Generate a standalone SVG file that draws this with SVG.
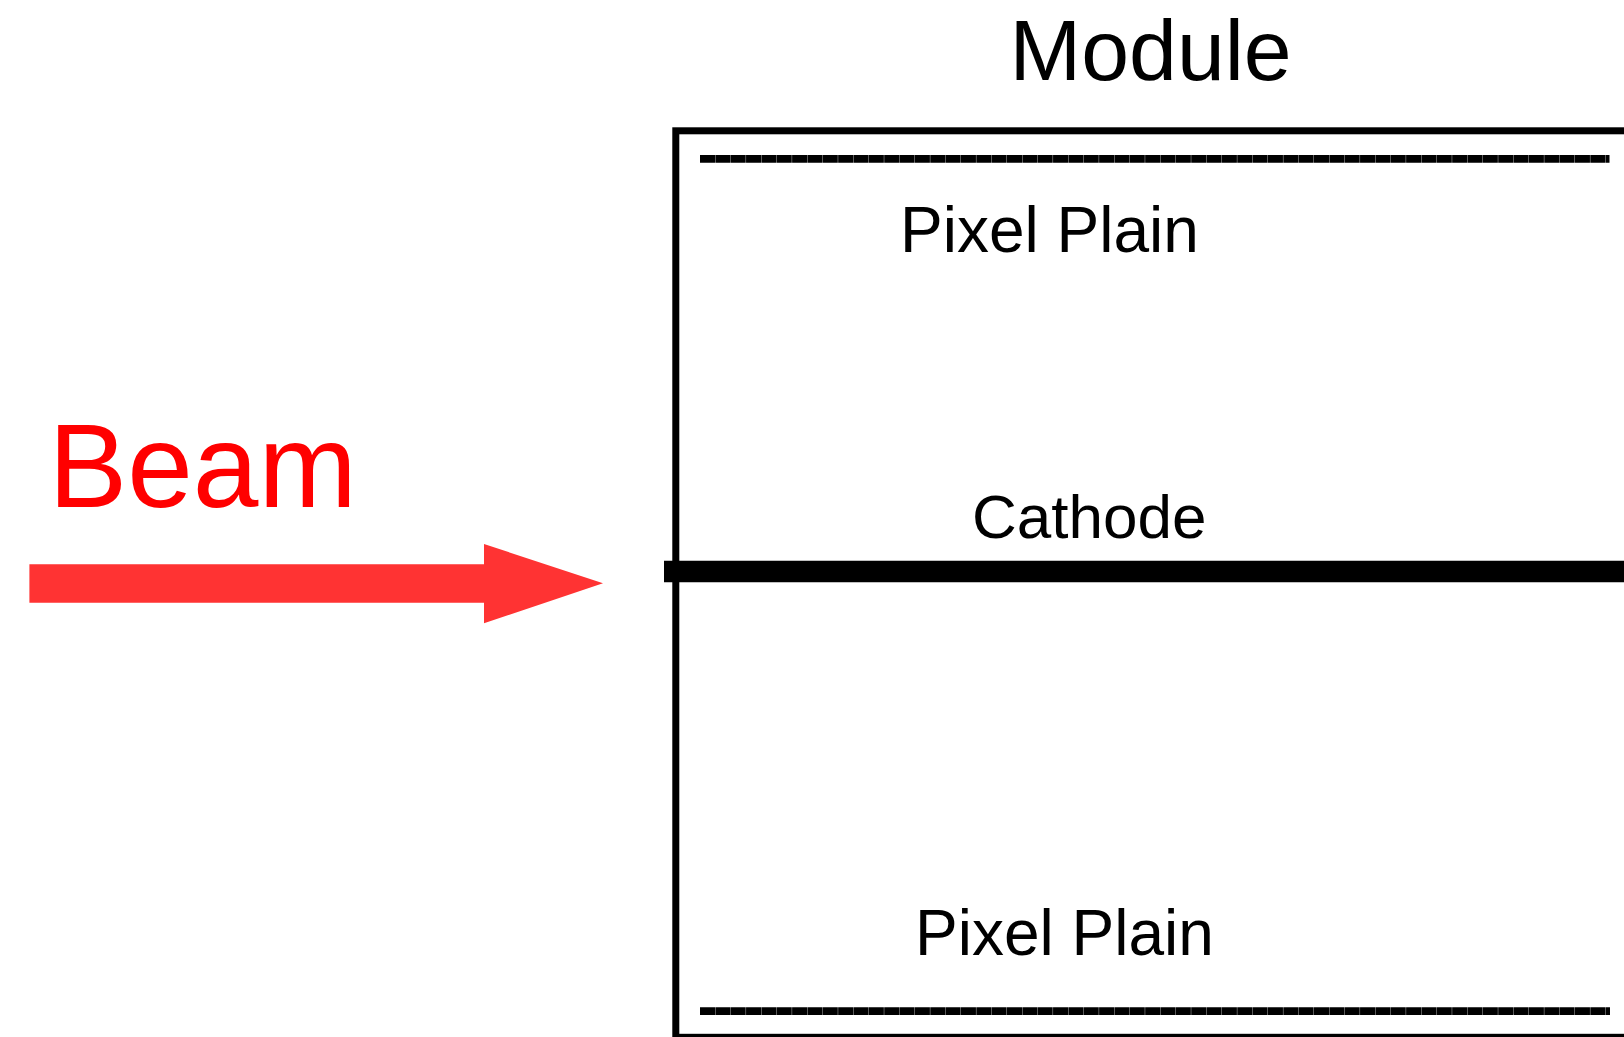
<svg xmlns="http://www.w3.org/2000/svg" width="1624" height="1037" viewBox="0 0 1624 1037">
  <style>
    .lbl { font-family: "Liberation Sans", Arial, sans-serif; fill: #000; }
    .pix { stroke: #000; stroke-width: 7.7; stroke-dasharray: 15 0.35; fill: none; }
  </style>
  <rect x="0" y="0" width="1624" height="1037" fill="#fff"/>
  <g id="module">
    <rect x="675.8" y="130.8" width="1000" height="906.5" fill="none" stroke="#000" stroke-width="7"/>
    <text class="lbl" x="1009.6" y="80" font-size="86">Module</text>
  </g>
  <g id="pixel-plain-top">
    <line class="pix" x1="700" y1="158.8" x2="1609.5" y2="158.8"/>
    <text class="lbl" x="900" y="251.7" font-size="64">Pixel Plain</text>
  </g>
  <g id="cathode">
    <line x1="664" y1="571.5" x2="1624" y2="571.5" stroke="#000" stroke-width="21.5"/>
    <text class="lbl" x="972" y="538.3" font-size="62">Cathode</text>
  </g>
  <g id="pixel-plain-bottom">
    <line class="pix" x1="700" y1="1011.2" x2="1610" y2="1011.2"/>
    <text class="lbl" x="915" y="955" font-size="64">Pixel Plain</text>
  </g>
  <g id="beam">
    <text x="48.5" y="507.3" font-size="118" font-family="Liberation Sans, Arial, sans-serif" fill="#ff0000">Beam</text>
  </g>
  <g id="connectors">
    <polygon points="29.4,564.3 484,564.3 484,544 603,583.3 484,623.3 484,602.7 29.4,602.7" fill="#ff3333"/>
  </g>
</svg>
